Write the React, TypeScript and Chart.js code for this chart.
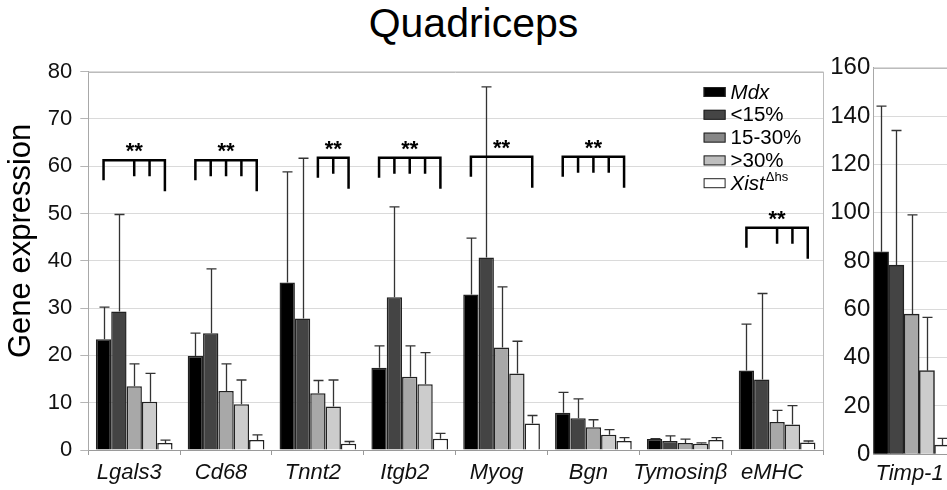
import { useEffect, useRef } from 'react';
import { Chart, registerables, Plugin } from 'chart.js';

Chart.register(...registerables);

const FONT = '"Liberation Sans", Arial, Helvetica, sans-serif';
Chart.defaults.font.family = FONT;

// categories
const genes = ['Lgals3', 'Cd68', 'Tnnt2', 'Itgb2', 'Myog', 'Bgn', 'Tymosinβ', 'eMHC'];
const groups = ['Mdx', '<15%', '15-30%', '>30%', 'Xist'];
const groupSup = ['', '', '', '', 'Δhs'];
const groupItalic = [true, false, false, false, true];

// mean expression per group
const mdx = [23.4, 19.9, 35.4, 17.4, 32.9, 7.9, 2.3, 16.8];
const lt15 = [29.3, 24.7, 27.8, 32.3, 40.7, 6.7, 1.9, 14.9];
const mid = [13.5, 12.5, 12.0, 15.5, 21.7, 4.8, 1.5, 5.9];
const gt30 = [10.2, 9.7, 9.2, 13.9, 16.2, 3.2, 1.3, 5.4];
const xist = [1.5, 2.1, 1.3, 2.4, 5.6, 1.9, 2.1, 1.6];

// standard deviations (upper error bars)
const mdxSd = [6.8, 4.8, 23.4, 4.6, 11.9, 4.3, 0.1, 9.8];
const lt15Sd = [20.5, 13.6, 33.9, 19.1, 36.1, 4.1, 1.1, 18.2];
const midSd = [4.7, 5.7, 2.7, 6.5, 12.8, 1.6, 0.8, 2.5];
const gt30Sd = [6.0, 5.1, 5.6, 6.7, 6.8, 1.1, 0.2, 4.0];
const xistSd = [0.6, 1.1, 0.5, 1.1, 1.7, 0.7, 0.5, 0.3];

// Timp-1 panel
const timpLabels = ['Timp-1'];
const timpMean = [83.8, 78.3, 58.0, 34.6, 3.8];
const timpSd = [60.3, 55.7, 41.1, 22.1, 2.8];

// significance brackets: gene index, bracket level, bars with ticks
const sigGene = [0, 1, 2, 3, 4, 5, 7];
const sigLevel = [61.3, 61.3, 61.8, 61.8, 62.0, 62.0, 47.0];
const sigBars = [
  [0, 2, 3, 4],
  [0, 1, 2, 3, 4],
  [2, 3, 4],
  [0, 1, 2, 3, 4],
  [0, 4],
  [0, 1, 2, 3, 4],
  [0, 2, 3, 4],
];

const means = [mdx, lt15, mid, gt30, xist];
const sds = [mdxSd, lt15Sd, midSd, gt30Sd, xistSd];

const barColors = ['#000000', '#444444', '#a8a8a8', '#cccccc', '#ffffff'];
const legendColors = ['#000000', '#454545', '#878787', '#bebebe', '#ffffff'];

const errorBars = (sd: number[][]): Plugin<'bar'> => ({
  id: 'errorBars',
  afterDatasetsDraw(chart) {
    const { ctx } = chart;
    const y = chart.scales.y;
    ctx.save();
    ctx.strokeStyle = '#333';
    ctx.lineWidth = 1.3;
    chart.data.datasets.forEach((ds, d) => {
      const meta = chart.getDatasetMeta(d);
      meta.data.forEach((bar: any, i: number) => {
        const v = ds.data[i] as number;
        const top = y.getPixelForValue(v + sd[d][i]);
        const base = y.getPixelForValue(v);
        const x = Math.round(bar.x) + 0.5;
        ctx.beginPath();
        ctx.moveTo(x, base);
        ctx.lineTo(x, top);
        ctx.moveTo(x - 5, top);
        ctx.lineTo(x + 5, top);
        ctx.stroke();
      });
    });
    ctx.restore();
  },
});

const brackets: Plugin<'bar'> = {
  id: 'brackets',
  afterDatasetsDraw(chart) {
    const { ctx } = chart;
    const y = chart.scales.y;
    ctx.save();
    ctx.strokeStyle = '#000';
    ctx.lineWidth = 2.5;
    ctx.fillStyle = '#000';
    ctx.font = `bold 22px ${FONT}`;
    ctx.textAlign = 'center';
    ctx.textBaseline = 'middle';
    sigGene.forEach((g, k) => {
      const xs = sigBars[k].map((b) => (chart.getDatasetMeta(b).data[g] as any).x);
      const py = y.getPixelForValue(sigLevel[k]);
      const x0 = xs[0];
      const x1 = xs[xs.length - 1];
      ctx.beginPath();
      ctx.moveTo(x0, py + 20);
      ctx.lineTo(x0, py);
      ctx.lineTo(x1, py);
      ctx.lineTo(x1, py + 31);
      xs.slice(1, -1).forEach((x) => {
        ctx.moveTo(x, py);
        ctx.lineTo(x, py + 16);
      });
      ctx.stroke();
      ctx.fillText('**', (x0 + x1) / 2, py - 8);
    });
    ctx.restore();
  },
};

const sampleLegend: Plugin<'bar'> = {
  id: 'sampleLegend',
  afterDraw(chart) {
    const { ctx, chartArea } = chart;
    const x0 = chartArea.right - 119.4;
    ctx.save();
    ctx.textBaseline = 'middle';
    ctx.textAlign = 'left';
    groups.forEach((g, k) => {
      const cy = chartArea.top + 20.3 + k * 22.8;
      ctx.fillStyle = legendColors[k];
      ctx.fillRect(x0, cy - 5, 22, 10);
      ctx.strokeStyle = '#222';
      ctx.lineWidth = 1;
      ctx.strokeRect(x0 + 0.5, cy - 4.5, 21, 9);
      ctx.fillStyle = '#000';
      ctx.font = `${groupItalic[k] ? 'italic ' : ''}20.5px ${FONT}`;
      ctx.fillText(g, x0 + 27, cy + 1);
      if (groupSup[k]) {
        const w = ctx.measureText(g).width;
        ctx.font = `13px ${FONT}`;
        ctx.fillText(groupSup[k], x0 + 27 + w + 1, cy - 6);
      }
    });
    ctx.restore();
  },
};

const yTitle: Plugin<'bar'> = {
  id: 'yTitle',
  afterDraw(chart) {
    const { ctx, chartArea } = chart;
    ctx.save();
    ctx.translate(21, (chartArea.top + chartArea.bottom) / 2 - 20);
    ctx.rotate(-Math.PI / 2);
    ctx.textAlign = 'center';
    ctx.textBaseline = 'middle';
    ctx.fillStyle = '#000';
    ctx.font = `31px ${FONT}`;
    ctx.fillText('Gene expression', 0, 0);
    ctx.restore();
  },
};

const frame: Plugin<'bar'> = {
  id: 'frame',
  beforeDatasetsDraw(chart) {
    const { ctx, chartArea } = chart;
    ctx.save();
    ctx.strokeStyle = '#bcbcbc';
    ctx.lineWidth = 1;
    ctx.beginPath();
    ctx.moveTo(chartArea.left, Math.round(chartArea.top) + 0.5);
    ctx.lineTo(chartArea.right, Math.round(chartArea.top) + 0.5);
    ctx.moveTo(Math.round(chartArea.right) + 0.5, chartArea.top);
    ctx.lineTo(Math.round(chartArea.right) + 0.5, chartArea.bottom);
    ctx.stroke();
    ctx.restore();
  },
};

function MainChart() {
  const ref = useRef<HTMLCanvasElement>(null);

  useEffect(() => {
    if (!ref.current) return;
    const chart = new Chart(ref.current, {
      type: 'bar',
      data: {
        labels: genes,
        datasets: groups.map((g, k) => ({
          label: g,
          data: means[k],
          backgroundColor: barColors[k],
          borderColor: '#222',
          borderWidth: 1.5,
          categoryPercentage: 0.835,
          barPercentage: 1,
        })),
      },
      options: {
        responsive: false,
        animation: false,
        layout: { padding: { top: 71.7, right: 7, left: 0, bottom: 0 } },
        plugins: { legend: { display: false }, tooltip: { enabled: false } },
        scales: {
          x: {
            afterFit: (s: any) => {
              s.height = 40;
            },
            grid: { drawOnChartArea: false, tickLength: 5, color: '#9a9a9a' },
            border: { color: '#9a9a9a' },
            ticks: {
              font: { size: 22, style: 'italic' },
              color: '#111',
              padding: 5,
              labelOffset: -5,
              maxRotation: 0,
              autoSkip: false,
            },
          },
          y: {
            min: 0,
            max: 80,
            afterFit: (s: any) => {
              s.width = 88.3;
            },
            ticks: { stepSize: 10, font: { size: 22 }, color: '#111', padding: 8 },
            grid: { color: '#dadada', tickLength: 8, tickColor: '#b5b5b5' },
            border: { color: '#a8a8a8' },
          },
        },
      },
      plugins: [frame, errorBars(sds), brackets, sampleLegend, yTitle],
    });
    return () => chart.destroy();
  }, []);

  return (
    <canvas
      ref={ref}
      width={830}
      height={490}
      style={{ position: 'absolute', left: 0, top: 0, width: 830, height: 490 }}
    />
  );
}

function TimpChart() {
  const ref = useRef<HTMLCanvasElement>(null);

  useEffect(() => {
    if (!ref.current) return;
    const chart = new Chart(ref.current, {
      type: 'bar',
      data: {
        labels: timpLabels,
        datasets: groups.map((g, k) => ({
          label: g,
          data: [timpMean[k]],
          backgroundColor: barColors[k],
          borderColor: '#222',
          borderWidth: 1.5,
          categoryPercentage: 1,
          barPercentage: 1,
        })),
      },
      options: {
        responsive: false,
        animation: false,
        layout: { padding: { top: 67.7, right: 50.2, left: 0, bottom: 0 } },
        plugins: { legend: { display: false }, tooltip: { enabled: false } },
        scales: {
          x: {
            afterFit: (s: any) => {
              s.height = 35.7;
            },
            grid: { drawOnChartArea: false, drawTicks: false },
            border: { color: '#9a9a9a' },
            ticks: {
              font: { size: 22, style: 'italic' },
              color: '#111',
              padding: 6,
              labelOffset: -2,
              maxRotation: 0,
            },
          },
          y: {
            min: 0,
            max: 160,
            afterFit: (s: any) => {
              s.width = 50.3;
            },
            ticks: { stepSize: 20, font: { size: 24 }, color: '#111', padding: 3 },
            grid: { color: '#dadada', drawTicks: false },
            border: { color: '#a8a8a8' },
          },
        },
      },
      plugins: [frame, errorBars(timpSd.map((v) => [v]))],
    });
    return () => chart.destroy();
  }, []);

  return (
    <canvas
      ref={ref}
      width={177}
      height={490}
      style={{ position: 'absolute', left: 823, top: 0, width: 177, height: 490 }}
    />
  );
}

export default function App() {
  return (
    <div
      style={{
        position: 'fixed',
        left: 0,
        top: 0,
        width: 947,
        height: 490,
        overflow: 'hidden',
        background: '#fff',
      }}
    >
      <div
        style={{
          position: 'absolute',
          left: 0,
          top: 3,
          width: 947,
          textAlign: 'center',
          fontFamily: FONT,
          fontSize: 41,
          lineHeight: '41px',
          color: '#000',
        }}
      >
        Quadriceps
      </div>
      <MainChart />
      <TimpChart />
    </div>
  );
}
